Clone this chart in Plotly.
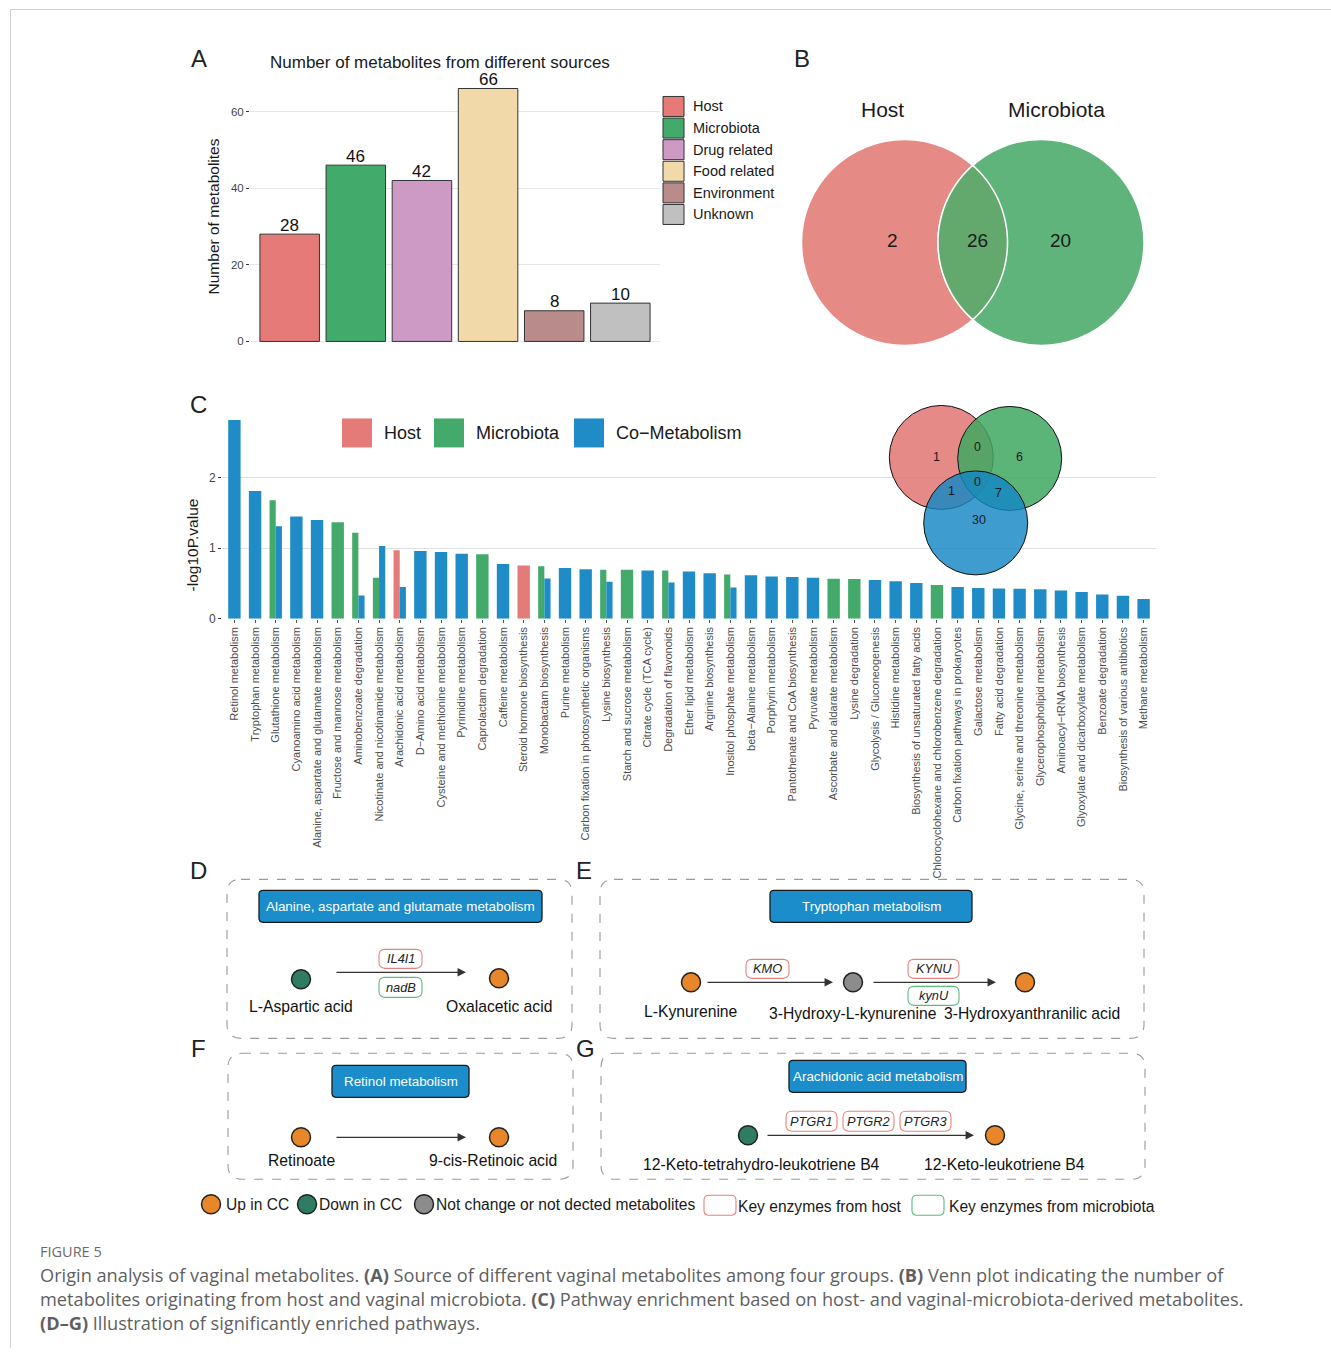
import numpy as np
import plotly.graph_objects as go

W, H = 1331, 1355
FONT = "Liberation Sans, Arial, Helvetica, sans-serif"

# ---------------- data ----------------
# Panel A
source_names = ["Host", "Microbiota", "Drug related", "Food related", "Environment", "Unknown"]
source_counts = [28, 46, 42, 66, 8, 10]
source_colors = ["#E57A78", "#42AB6B", "#CD9AC6", "#F1D9AA", "#B98B8A", "#C0C0C0"]

# Panel B  (host only, both, microbiota only)
venn2_sets = ["Host", "Microbiota"]
venn2_counts = [2, 26, 20]

# Panel C
pathways = [
    "Retinol metabolism", "Tryptophan metabolism", "Glutathione metabolism",
    "Cyanoamino acid metabolism", "Alanine, aspartate and glutamate metabolism",
    "Fructose and mannose metabolism", "Aminobenzoate degradation",
    "Nicotinate and nicotinamide metabolism", "Arachidonic acid metabolism",
    "D\u2212Amino acid metabolism", "Cysteine and methionine metabolism",
    "Pyrimidine metabolism", "Caprolactam degradation", "Caffeine metabolism",
    "Steroid hormone biosynthesis", "Monobactam biosynthesis", "Purine metabolism",
    "Carbon fixation in photosynthetic organisms", "Lysine biosynthesis",
    "Starch and sucrose metabolism", "Citrate cycle (TCA cycle)",
    "Degradation of flavonoids", "Ether lipid metabolism", "Arginine biosynthesis",
    "Inositol phosphate metabolism", "beta\u2212Alanine metabolism", "Porphyrin metabolism",
    "Pantothenate and CoA biosynthesis", "Pyruvate metabolism",
    "Ascorbate and aldarate metabolism", "Lysine degradation",
    "Glycolysis / Gluconeogenesis", "Histidine metabolism",
    "Biosynthesis of unsaturated fatty acids",
    "Chlorocyclohexane and chlorobenzene degradation",
    "Carbon fixation pathways in prokaryotes", "Galactose metabolism",
    "Fatty acid degradation", "Glycine, serine and threonine metabolism",
    "Glycerophospholipid metabolism", "Aminoacyl\u2212tRNA biosynthesis",
    "Glyoxylate and dicarboxylate metabolism", "Benzoate degradation",
    "Biosynthesis of various antibiotics", "Methane metabolism",
]
N = None
host_vals = [N, N, N, N, N, N, N, N, 0.97, N,
             N, N, N, N, 0.755, N, N, N, N, N,
             N, N, N, N, N, N, N, N, N, N,
             N, N, N, N, N, N, N, N, N, N,
             N, N, N, N, N]
micro_vals = [N, N, 1.68, N, N, 1.37, 1.22, 0.58, N, N,
              N, N, 0.915, N, N, 0.745, N, N, 0.695, 0.695,
              N, 0.685, N, N, 0.628, N, N, N, N, 0.567,
              0.562, N, N, N, 0.477, N, N, N, N, N,
              N, N, N, N, N]
co_vals = [2.82, 1.81, 1.31, 1.45, 1.40, N, 0.33, 1.03, 0.45, 0.96,
           0.945, 0.92, N, 0.775, N, 0.57, 0.72, 0.70, 0.525, N,
           0.685, 0.515, 0.67, 0.643, 0.444, 0.618, 0.60, 0.59, 0.58, N,
           N, 0.548, 0.53, 0.505, N, 0.449, 0.434, 0.43, 0.425, 0.416,
           0.40, 0.378, 0.345, 0.326, 0.278]
c_groups = ["Host", "Microbiota", "Co\u2212Metabolism"]
c_colors = ["#E57B79", "#44AA6B", "#1F8CC8"]

# Venn in C: H only, H&M, M only, H&C, all, M&C, C only
venn3_counts = [1, 0, 6, 1, 0, 7, 30]

# Pathway diagram states
state_colors = {"up": "#E8862A", "down": "#2E7D62", "nc": "#8C8C8C"}
enzyme_colors = {"host": "#E8807E", "micro": "#5DBB7E"}

fig = go.Figure()
shapes = []
anns = []


def Y(y):
    # small vertical calibration of the page coordinates
    return (y + 0.5) / 0.995


def txt(x, y, s, size=14, color="#1a1a1a", xanchor="center", yanchor="middle",
        angle=0, family=FONT):
    anns.append(dict(x=x, y=Y(y), xref="x3", yref="y3", text=s, showarrow=False,
                     font=dict(size=size, color=color, family=family),
                     xanchor=xanchor, yanchor=yanchor, textangle=angle))


def rrect(x0, y0, x1, y1, r):
    y0, y1 = Y(y0), Y(y1)
    return (f"M{x0+r},{y0} L{x1-r},{y0} Q{x1},{y0} {x1},{y0+r} L{x1},{y1-r} "
            f"Q{x1},{y1} {x1-r},{y1} L{x0+r},{y1} Q{x0},{y1} {x0},{y1-r} "
            f"L{x0},{y0+r} Q{x0},{y0} {x0+r},{y0} Z")


def shp_path(path, fill="rgba(0,0,0,0)", line="#333", width=1, dash="solid"):
    shapes.append(dict(type="path", path=path, xref="x3", yref="y3",
                       fillcolor=fill, line=dict(color=line, width=width, dash=dash),
                       layer="above"))


def rect(x0, y0, x1, y1, fill, line="#333", width=1):
    shapes.append(dict(type="rect", xref="x3", yref="y3", x0=x0, x1=x1,
                       y0=Y(y0), y1=Y(y1), fillcolor=fill,
                       line=dict(color=line, width=width), layer="above"))


def circle(cx, cy, r, fill, line="#222", width=1.5):
    shapes.append(dict(type="circle", xref="x3", yref="y3", x0=cx - r, x1=cx + r,
                       y0=Y(cy - r), y1=Y(cy + r), fillcolor=fill,
                       line=dict(color=line, width=width), layer="above"))


def arrow(x0, x1, y):
    anns.append(dict(x=x1, y=Y(y), ax=x0, ay=Y(y), xref="x3", yref="y3", axref="x3",
                     ayref="y3", text="", showarrow=True, arrowhead=2, arrowsize=1.3,
                     arrowwidth=1.3, arrowcolor="#333333"))


# ---------------- Panel A ----------------
fig.add_trace(go.Bar(
    x=list(range(len(source_names))), y=source_counts, marker_color=source_colors,
    marker_line=dict(color="#333333", width=1), width=0.9,
    xaxis="x", yaxis="y", showlegend=False, hoverinfo="skip"))
for i, v in enumerate(source_counts):
    anns.append(dict(x=i, y=v, xref="x", yref="y", text=str(v), showarrow=False,
                     yanchor="bottom", yshift=-2.5,
                     font=dict(size=17, color="#111", family=FONT)))

for i, (nm, col) in enumerate(zip(source_names, source_colors)):
    yc = 106 + i * 21.6
    rect(663, yc - 10, 684, yc + 10, col)
    txt(691, yc, nm, size=14.5, xanchor="left")

txt(440, 62, "Number of metabolites from different sources", size=17)
txt(213, 216, "Number of metabolites", size=15.5, angle=-90)

# ---------------- Panel B ----------------
c1 = (904.5, 242.0)
c2 = (1041.0, 242.0)
rB = 103.0
circle(c1[0], c1[1], rB, "#E58A85", line="white", width=1.5)
circle(c2[0], c2[1], rB, "#5FB47C", line="white", width=1.5)
d = c2[0] - c1[0]
th = np.arccos((d / 2) / rB)
t1 = np.linspace(-th, th, 60)
t2 = np.linspace(np.pi - th, np.pi + th, 60)
pts = [(c1[0] + rB * np.cos(t), Y(c1[1] + rB * np.sin(t))) for t in t1]
pts += [(c2[0] + rB * np.cos(t), Y(c2[1] + rB * np.sin(t))) for t in t2]
lens = "M" + " L".join(f"{x:.2f},{y:.2f}" for x, y in pts) + " Z"
shp_path(lens, fill="#63A96E", line="white", width=1.5)
txt(882, 109, venn2_sets[0], size=21)
txt(1056, 109, venn2_sets[1], size=21)
for xx, v in zip([892, 977, 1060], venn2_counts):
    txt(xx, 240, str(v), size=19)

# ---------------- Panel C ----------------
groups = [host_vals, micro_vals, co_vals]
for k, (vals, col) in enumerate(zip(groups, c_colors)):
    xs, ys, ws, offs = [], [], [], []
    for i in range(len(pathways)):
        if vals[i] is None:
            continue
        present = [g for g in range(3) if groups[g][i] is not None]
        w = 0.6 / len(present)
        xs.append(i)
        ys.append(vals[i])
        ws.append(w)
        offs.append(-0.3 + present.index(k) * w)
    fig.add_trace(go.Bar(x=xs, y=ys, width=ws, offset=offs, marker_color=col,
                         marker_line_width=0, xaxis="x2", yaxis="y2",
                         showlegend=False, hoverinfo="skip"))

for xb, col, nm in zip([342, 434, 574], c_colors, c_groups):
    rect(xb, 418, xb + 30, 447, col, line="rgba(0,0,0,0)", width=0)
    txt(xb + 40, 433, nm, size=18, xanchor="left")

txt(192, 545, "-log10P.value", size=15.5, angle=-90)

# Venn (3 sets) in panel C
circle(941.3, 457, 52, "rgba(224,112,108,0.82)", line="#111", width=1)
circle(1009.7, 458, 52, "rgba(62,168,98,0.85)", line="#111", width=1)
circle(975.7, 522.5, 52, "rgba(20,134,197,0.82)", line="#111", width=1)
for (xx, yy), v in zip([(936, 457), (977, 447), (1019, 457), (951, 491), (977, 482),
                        (998, 493), (979, 520)], venn3_counts):
    txt(xx, yy, str(v), size=12.5)

# ---------------- Panels D-G ----------------
def panel_box(x0, y0, x1, y1):
    shp_path(rrect(x0, y0, x1, y1, 14), line="#9A9A9A", width=1.1, dash="dash")


def title_box(x0, y0, x1, y1, s):
    shp_path(rrect(x0, y0, x1, y1, 4), fill="#1A8DCA", line="#1a1a1a", width=1.3)
    txt((x0 + x1) / 2, (y0 + y1) / 2, s, size=13.4, color="white")


def enzyme(x0, y0, x1, y1, s, kind):
    shp_path(rrect(x0, y0, x1, y1, 6), fill="white", line=enzyme_colors[kind], width=1.1)
    txt((x0 + x1) / 2, (y0 + y1) / 2, f"<i>{s}</i>", size=12.8, color="#222")


LAB = 15.7
# D
panel_box(227, 879, 572, 1038)
title_box(259, 890, 542, 922, "Alanine, aspartate and glutamate metabolism")
circle(301, 979, 9.5, state_colors["down"])
circle(499, 978, 9.5, state_colors["up"])
arrow(335, 466, 972)
enzyme(379, 949, 422, 968, "IL4I1", "host")
enzyme(379, 977, 422, 997, "nadB", "micro")
txt(301, 1006, "L-Aspartic acid", size=LAB, color="#111")
txt(499, 1006, "Oxalacetic acid", size=LAB, color="#111")

# E
panel_box(600, 879, 1144, 1038)
title_box(770, 890, 972, 922, "Tryptophan metabolism")
circle(691, 982, 9.5, state_colors["up"])
circle(853, 982, 9.5, state_colors["nc"])
circle(1025, 982, 9.5, state_colors["up"])
arrow(706, 833, 982)
arrow(872, 996, 982)
enzyme(746, 959, 789, 978, "KMO", "host")
enzyme(908, 959, 959, 978, "KYNU", "host")
enzyme(908, 986, 959, 1005, "kynU", "micro")
txt(691, 1011, "L-Kynurenine", size=LAB, color="#111")
txt(853, 1013, "3-Hydroxy-L-kynurenine", size=LAB, color="#111")
txt(1032, 1013, "3-Hydroxyanthranilic acid", size=LAB, color="#111")

# F
panel_box(228, 1053, 573, 1179)
title_box(332, 1065, 469, 1097, "Retinol metabolism")
circle(301, 1137, 9.5, state_colors["up"])
circle(499, 1137, 9.5, state_colors["up"])
arrow(335, 466, 1137)
txt(301, 1160, "Retinoate", size=LAB, color="#111")
txt(493, 1160, "9-cis-Retinoic acid", size=LAB, color="#111")

# G
panel_box(601, 1053, 1145, 1179)
title_box(789, 1060, 966, 1092, "Arachidonic acid metabolism")
circle(748, 1135, 9.5, state_colors["down"])
circle(995, 1135, 9.5, state_colors["up"])
arrow(766, 974, 1135)
enzyme(786, 1111, 837, 1131, "PTGR1", "host")
enzyme(843, 1111, 894, 1131, "PTGR2", "host")
enzyme(900, 1111, 951, 1131, "PTGR3", "host")
txt(761, 1164, "12-Keto-tetrahydro-leukotriene B4", size=LAB, color="#111")
txt(1004, 1164, "12-Keto-leukotriene B4", size=LAB, color="#111")

# bottom legend
for cx, col, lab, tx in [(211, state_colors["up"], "Up in CC", 224),
                         (307, state_colors["down"], "Down in CC", 317),
                         (424, state_colors["nc"], "Not change or not dected metabolites", 434)]:
    circle(cx, 1204, 9.5, col)
    txt(tx, 1204, lab, size=15.6, xanchor="left")
shp_path(rrect(704, 1195, 736, 1215, 5), fill="white", line=enzyme_colors["host"], width=1.1)
txt(736, 1206, "Key enzymes from host", size=15.6, xanchor="left")
shp_path(rrect(912, 1195, 944, 1215, 5), fill="white", line=enzyme_colors["micro"], width=1.1)
txt(947, 1206, "Key enzymes from microbiota", size=15.6, xanchor="left")

# panel letters
for lt, x, y in [("A", 199, 58), ("B", 802, 58), ("C", 198, 404), ("D", 198, 870),
                 ("E", 584, 870), ("F", 198, 1048), ("G", 585, 1048)]:
    txt(x, y, lt, size=24, color="#222")

# caption
CAP = "Open Sans, Liberation Sans, sans-serif"
txt(38, 1251, "FIGURE 5", size=14.5, color="#6a6a6a", xanchor="left", family=CAP)
cap_lines = [
    "Origin analysis of vaginal metabolites. <b>(A)</b> Source of different vaginal metabolites among four groups. <b>(B)</b> Venn plot indicating the number of",
    "metabolites originating from host and vaginal microbiota. <b>(C)</b> Pathway enrichment based on host- and vaginal-microbiota-derived metabolites.",
    "<b>(D\u2013G)</b> Illustration of significantly enriched pathways.",
]
for i, ln in enumerate(cap_lines):
    txt(38, 1275 + 24 * i, ln, size=18.2, color="#5f5f5f", xanchor="left", family=CAP)

# frame lines
shapes.append(dict(type="line", xref="x3", yref="y3", x0=10, x1=W, y0=Y(9), y1=Y(9),
                   line=dict(color="#d2d2d2", width=1), layer="above"))
shapes.append(dict(type="line", xref="x3", yref="y3", x0=10.5, x1=10.5, y0=Y(9), y1=H + 20,
                   line=dict(color="#d2d2d2", width=1), layer="above"))

# invisible overlay trace
fig.add_trace(go.Scatter(x=[0], y=[0], mode="markers", marker=dict(opacity=0),
                         xaxis="x3", yaxis="y3", showlegend=False, hoverinfo="skip"))

# ---------------- layout ----------------
a0, a60 = Y(341), Y(111)
pxA = (a0 - a60) / 60.0
aTop, aBot = Y(70), Y(355)
c0, c1px = Y(618.3), Y(547.8)
pxC = c0 - c1px
cTop = Y(405)

fig.update_layout(
    width=W, height=H, margin=dict(l=0, r=0, t=0, b=0),
    paper_bgcolor="white", plot_bgcolor="rgba(0,0,0,0)",
    barmode="overlay", font=dict(family=FONT, color="#222"),
    xaxis=dict(domain=[250 / W, 660 / W], range=[-0.6, 5.6], anchor="y",
               showticklabels=False, showgrid=False, zeroline=False, showline=False,
               ticks=""),
    yaxis=dict(domain=[1 - aBot / H, 1 - aTop / H], anchor="x",
               range=[-(aBot - a0) / pxA, (a0 - aTop) / pxA],
               tickvals=[0, 20, 40, 60], ticks="outside", ticklen=3, tickcolor="#333",
               tickfont=dict(size=11.5, color="#444444", family=FONT),
               showgrid=True, gridcolor="#E6E6E6", gridwidth=1, zeroline=False,
               showline=False),
    xaxis2=dict(domain=[222 / W, 1156 / W], range=[-0.6, len(pathways) - 0.4],
                anchor="y2", tickvals=list(range(len(pathways))), ticktext=pathways,
                tickangle=-90, ticks="outside", ticklen=3, tickcolor="#555",
                tickfont=dict(size=11, color="#4D4D4D", family=FONT),
                showgrid=False, zeroline=False, showline=False),
    yaxis2=dict(domain=[1 - c0 / H, 1 - cTop / H], anchor="x2",
                range=[0, (c0 - cTop) / pxC], tickvals=[0, 1, 2], ticks="outside",
                ticklen=3, tickcolor="#333",
                tickfont=dict(size=12, color="#444444", family=FONT),
                showgrid=True, gridcolor="#E0E0E0", gridwidth=1, zeroline=False,
                showline=False),
    xaxis3=dict(domain=[0, 1], range=[0, W], anchor="y3", visible=False,
                fixedrange=True),
    yaxis3=dict(domain=[0, 1], range=[H, 0], anchor="x3", visible=False,
                fixedrange=True),
    shapes=shapes, annotations=anns,
)

fig.write_html("out.html")
